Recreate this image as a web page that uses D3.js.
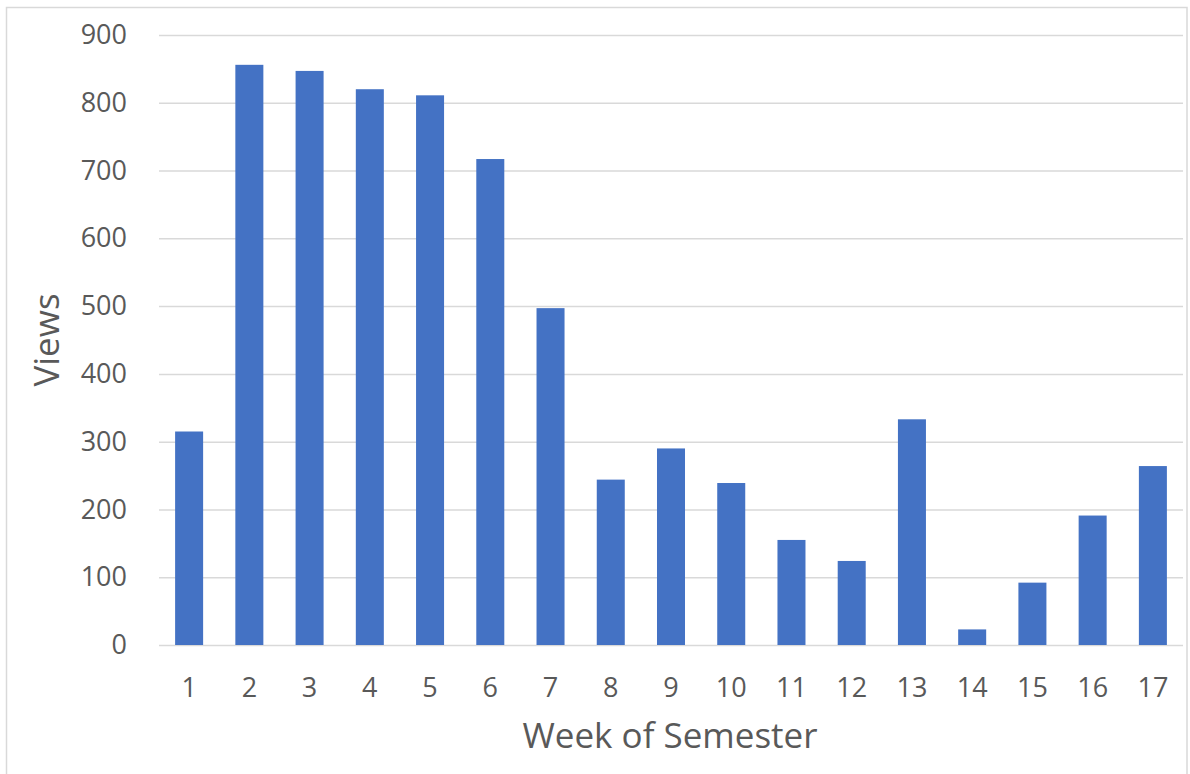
<!DOCTYPE html>
<html>
<head>
<meta charset="utf-8">
<script src="https://cdn.jsdelivr.net/npm/d3@7"></script>
<style>
html,body{margin:0;padding:0;background:#fff;}
svg{display:block;}
text{font-family:"Open Sans","Noto Sans",sans-serif;fill:#595959;}
</style>
</head>
<body>
<svg id="chart" width="1190" height="774"></svg>
<script>
const weeks = ["1","2","3","4","5","6","7","8","9","10","11","12","13","14","15","16","17"];
const views = [315, 856, 847, 820, 811, 717, 497, 244, 290, 239, 155, 124, 333, 23, 92, 191, 264];
const yTicks = [0,100,200,300,400,500,600,700,800,900];
const xTitle = "Week of Semester";
const yTitle = "Views";

const svg = d3.select("#chart");
const W = 1190, H = 774;
const m = {left:159, right:1183, top:35, bottom:645};

// outer border
svg.append("rect").attr("x",6.5).attr("y",7.5).attr("width",1180.5).attr("height",780)
  .attr("fill","none").attr("stroke","#d9d9d9").attr("stroke-width",1.5);

const x = d3.scaleBand().domain(weeks).range([m.left,m.right]).paddingInner(0.535).paddingOuter(0.2675);
const y = d3.scaleLinear().domain([0,900]).range([m.bottom,m.top]);

// gridlines
const yAxis = d3.axisLeft(y).tickValues(yTicks).tickSize(-(m.right-m.left)).tickPadding(32);
const gy = svg.append("g").attr("transform",`translate(${m.left},0)`).call(yAxis);
gy.select(".domain").remove();
gy.selectAll(".tick line").attr("stroke","#d9d9d9").attr("stroke-width",1.5);
gy.selectAll(".tick text").attr("font-size",27).attr("fill","#595959")
  .attr("font-family","'Open Sans','Noto Sans',sans-serif");

// bars
svg.append("g").selectAll("rect").data(weeks).join("rect")
  .attr("x",d=>x(d))
  .attr("width",x.bandwidth())
  .attr("y",(d,i)=>y(views[i]))
  .attr("height",(d,i)=>y(0)-y(views[i]))
  .attr("fill","#4472C4");

// x axis
const xAxis = d3.axisBottom(x).tickSize(0).tickPadding(33);
const gx = svg.append("g").attr("transform",`translate(0,${m.bottom})`).call(xAxis);
gx.select(".domain").remove();
gx.selectAll(".tick text").attr("font-size",27).attr("fill","#595959")
  .attr("font-family","'Open Sans','Noto Sans',sans-serif");

// axis titles
svg.append("text").attr("x",670).attr("y",748).attr("text-anchor","middle")
  .attr("font-size",35).text(xTitle);
svg.append("text").attr("transform","translate(59,340) rotate(-90)").attr("text-anchor","middle")
  .attr("font-size",35).text(yTitle);
</script>
</body>
</html>
